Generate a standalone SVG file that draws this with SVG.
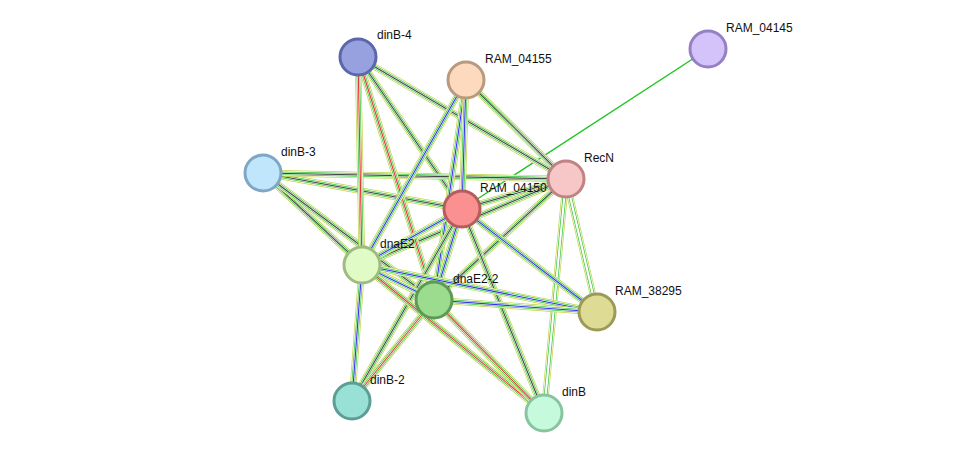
<svg xmlns="http://www.w3.org/2000/svg" xmlns:xlink="http://www.w3.org/1999/xlink" width="975" height="459" viewBox="0 0 975 459">
<style>
path{fill:none}
.a{stroke:#c3d34a;stroke-width:6.4}
.w{stroke:#fff;stroke-width:5}
.b{stroke:#33c433;stroke-width:3.6}
.v{stroke:#fff;stroke-width:2.2}
.c{stroke:#444;stroke-width:1.1}
.r{stroke:#e33;stroke-width:1.1}
.u{stroke:#33e;stroke-width:1.1}
.n circle{stroke-width:3}
text{font-family:"Liberation Sans",Arial,sans-serif;font-size:12px;fill:#111}
</style>
<defs>
<path id="e1" d="M358 57L362 265"/>
<path id="e2" d="M358 57L434 300"/>
<path id="e3" d="M358 57L462 209"/>
<path id="e4" d="M358 57L566 179"/>
<path id="e5" d="M466 80L362 265"/>
<path id="e6" d="M466 80L434 300"/>
<path id="e7" d="M466 80L462 209"/>
<path id="e8" d="M466 80L566 179"/>
<path id="e9" d="M263 173L462 209"/>
<path id="e10" d="M263 173L566 179"/>
<path id="e11" d="M263 173L362 265"/>
<path id="e12" d="M263 173L434 300"/>
<path id="e13" d="M566 179L462 209"/>
<path id="e14" d="M566 179L362 265"/>
<path id="e15" d="M566 179L434 300"/>
<path id="e16" d="M566 179L597 312"/>
<path id="e17" d="M566 179L544 413"/>
<path id="e18" d="M462 209L362 265"/>
<path id="e19" d="M462 209L434 300"/>
<path id="e20" d="M462 209L597 312"/>
<path id="e21" d="M462 209L544 413"/>
<path id="e22" d="M462 209L352 401"/>
<path id="e23" d="M362 265L434 300"/>
<path id="e24" d="M362 265L352 401"/>
<path id="e25" d="M362 265L544 413"/>
<path id="e26" d="M362 265L597 312"/>
<path id="e27" d="M434 300L352 401"/>
<path id="e28" d="M434 300L544 413"/>
<path id="e29" d="M434 300L597 312"/>
</defs>
<g id="connectors">
<path d="M708 49L462 209" stroke="#22c322" stroke-width="1.4"/>
<g id="ev">
<use href="#e3" class="a"/><use href="#e3" class="w"/><use href="#e3" class="b"/><use href="#e3" class="v"/><use href="#e3" class="c"/>
<use href="#e4" class="a"/><use href="#e4" class="w"/><use href="#e4" class="b"/><use href="#e4" class="v"/><use href="#e4" class="c"/>
<use href="#e8" class="a"/><use href="#e8" class="w"/><use href="#e8" class="b"/><use href="#e8" class="v"/><use href="#e8" class="c"/>
<use href="#e9" class="a"/><use href="#e9" class="w"/><use href="#e9" class="b"/><use href="#e9" class="v"/><use href="#e9" class="c"/>
<use href="#e10" class="a"/><use href="#e10" class="w"/><use href="#e10" class="b"/><use href="#e10" class="v"/><use href="#e10" class="c"/>
<use href="#e11" class="a"/><use href="#e11" class="w"/><use href="#e11" class="b"/><use href="#e11" class="v"/><use href="#e11" class="c"/>
<use href="#e12" class="a"/><use href="#e12" class="w"/><use href="#e12" class="b"/><use href="#e12" class="v"/><use href="#e12" class="c"/>
<use href="#e13" class="a"/><use href="#e13" class="w"/><use href="#e13" class="b"/><use href="#e13" class="v"/><use href="#e13" class="c"/>
<use href="#e14" class="a"/><use href="#e14" class="w"/><use href="#e14" class="b"/><use href="#e14" class="v"/><use href="#e14" class="c"/>
<use href="#e15" class="a"/><use href="#e15" class="w"/><use href="#e15" class="b"/><use href="#e15" class="v"/><use href="#e15" class="c"/>
<use href="#e16" class="a"/><use href="#e16" class="w"/><use href="#e16" class="b"/><use href="#e16" class="v"/>
<use href="#e17" class="a"/><use href="#e17" class="w"/><use href="#e17" class="b"/><use href="#e17" class="v"/>
<use href="#e21" class="a"/><use href="#e21" class="w"/><use href="#e21" class="b"/><use href="#e21" class="v"/><use href="#e21" class="c"/>
</g>
<g id="full">
<use href="#e1" class="a"/><use href="#e1" class="w"/><use href="#e1" class="b"/><use href="#e1" class="v"/><use href="#e1" class="r"/>
<use href="#e2" class="a"/><use href="#e2" class="w"/><use href="#e2" class="b"/><use href="#e2" class="v"/><use href="#e2" class="r"/>
<use href="#e5" class="a"/><use href="#e5" class="w"/><use href="#e5" class="b"/><use href="#e5" class="v"/><use href="#e5" class="u"/>
<use href="#e6" class="a"/><use href="#e6" class="w"/><use href="#e6" class="b"/><use href="#e6" class="v"/><use href="#e6" class="u"/>
<use href="#e7" class="a"/><use href="#e7" class="w"/><use href="#e7" class="b"/><use href="#e7" class="v"/><use href="#e7" class="u"/>
<use href="#e18" class="a"/><use href="#e18" class="w"/><use href="#e18" class="b"/><use href="#e18" class="v"/><use href="#e18" class="u"/>
<use href="#e19" class="a"/><use href="#e19" class="w"/><use href="#e19" class="b"/><use href="#e19" class="v"/><use href="#e19" class="u"/>
<use href="#e20" class="a"/><use href="#e20" class="w"/><use href="#e20" class="b"/><use href="#e20" class="v"/><use href="#e20" class="u"/>
<use href="#e22" class="a"/><use href="#e22" class="w"/><use href="#e22" class="b"/><use href="#e22" class="v"/><use href="#e22" class="c"/>
<use href="#e23" class="a"/><use href="#e23" class="w"/><use href="#e23" class="b"/><use href="#e23" class="v"/><use href="#e23" class="u"/>
<use href="#e24" class="a"/><use href="#e24" class="w"/><use href="#e24" class="b"/><use href="#e24" class="v"/><use href="#e24" class="u"/>
<use href="#e25" class="a"/><use href="#e25" class="w"/><use href="#e25" class="b"/><use href="#e25" class="v"/><use href="#e25" class="r"/>
<use href="#e26" class="a"/><use href="#e26" class="w"/><use href="#e26" class="b"/><use href="#e26" class="v"/><use href="#e26" class="u"/>
<use href="#e27" class="a"/><use href="#e27" class="w"/><use href="#e27" class="b"/><use href="#e27" class="v"/><use href="#e27" class="r"/>
<use href="#e28" class="a"/><use href="#e28" class="w"/><use href="#e28" class="b"/><use href="#e28" class="v"/><use href="#e28" class="r"/>
<use href="#e29" class="a"/><use href="#e29" class="w"/><use href="#e29" class="b"/><use href="#e29" class="v"/><use href="#e29" class="u"/>
</g>
</g>
<g id="dinB-4" class="n"><circle cx="358" cy="57" r="18" fill="#97a1e0" stroke="#5a67a8"/><text x="377" y="39">dinB-4</text></g>
<g id="RAM_04155" class="n"><circle cx="466" cy="80" r="18" fill="#fdd9bd" stroke="#b99a7e"/><text x="485" y="63">RAM_04155</text></g>
<g id="RAM_04145" class="n"><circle cx="708" cy="49" r="18" fill="#d3c3fa" stroke="#9580c4"/><text x="726" y="32">RAM_04145</text></g>
<g id="dinB-3" class="n"><circle cx="263" cy="173" r="18" fill="#bfe6fb" stroke="#7fa6c6"/><text x="281" y="156">dinB-3</text></g>
<g id="RecN" class="n"><circle cx="566" cy="179" r="18" fill="#f7c6c6" stroke="#c08282"/><text x="584" y="162">RecN</text></g>
<g id="RAM_04150" class="n"><circle cx="462" cy="209" r="18" fill="#fb9090" stroke="#b55c5c"/><text x="480" y="192">RAM_04150</text></g>
<g id="dnaE2" class="n"><circle cx="362" cy="265" r="18" fill="#e1fbc6" stroke="#a0bb82"/><text x="380" y="248">dnaE2</text></g>
<g id="dnaE2-2" class="n"><circle cx="434" cy="300" r="18" fill="#9bdc8e" stroke="#5e9a56"/><text x="453" y="283">dnaE2-2</text></g>
<g id="RAM_38295" class="n"><circle cx="597" cy="312" r="18" fill="#dedc94" stroke="#9b9a58"/><text x="615" y="295">RAM_38295</text></g>
<g id="dinB-2" class="n"><circle cx="352" cy="401" r="18" fill="#99e0d6" stroke="#5c9d94"/><text x="370" y="384">dinB-2</text></g>
<g id="dinB" class="n"><circle cx="544" cy="413" r="18" fill="#c5fbdc" stroke="#87c49f"/><text x="562" y="396">dinB</text></g>
</svg>
